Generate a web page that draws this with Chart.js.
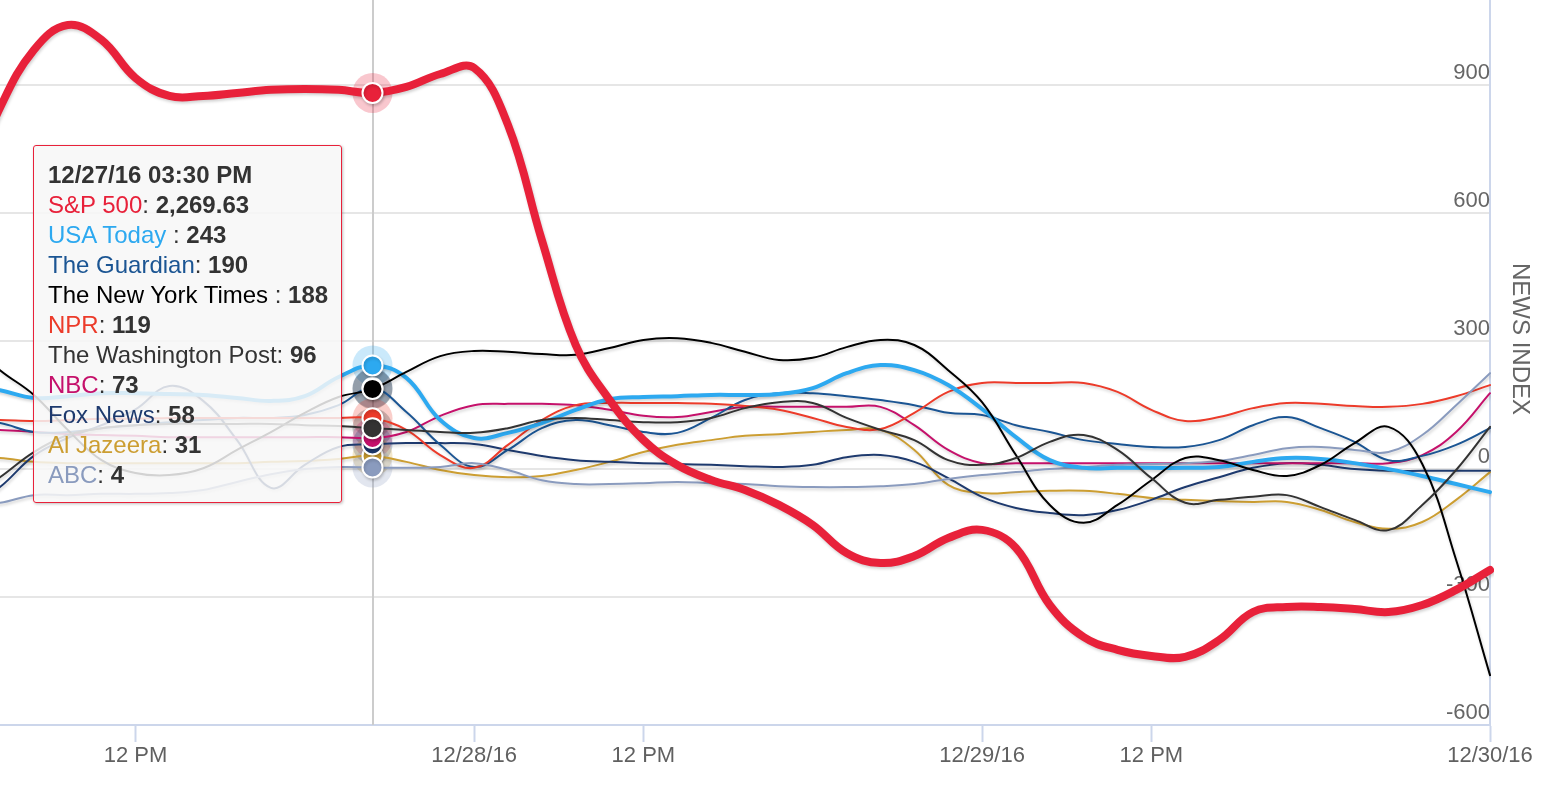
<!DOCTYPE html>
<html>
<head>
<meta charset="utf-8">
<title>News index vs S&amp;P 500</title>
<script src="https://cdn.jsdelivr.net/npm/chart.js"></script>
<style>
  html, body { margin: 0; padding: 0; background: #fff; }
  #wrap { position: relative; width: 1544px; height: 792px; }
  #tip {
    position: absolute; top: 145px; left: 32px; box-sizing: border-box; width: 309px;
    padding: 14px 10px 12px 14px; background: rgba(247, 247, 247, 0.85);
    border: 1px solid #e8213a; border-radius: 3px; box-shadow: 1px 1px 3px rgba(0, 0, 0, 0.25);
    font: 24px/30px "Liberation Sans", Arial, Helvetica, sans-serif; color: #333;
    white-space: nowrap; pointer-events: none; opacity: 0;
  }
</style>
</head>
<body>
<div id="wrap">
  <canvas id="myChart"></canvas>
  <div id="tip"></div>
</div>
<script>
// x categories: half-hour trading slots plus one overnight slot per day (ordinal axis)
const days = ['12/27/16', '12/28/16', '12/29/16', '12/30/16'];
const slots = ['09:30 AM', '10:00 AM', '10:30 AM', '11:00 AM', '11:30 AM', '12:00 PM', '12:30 PM',
               '01:00 PM', '01:30 PM', '02:00 PM', '02:30 PM', '03:00 PM', '03:30 PM', '04:00 PM', '08:00 PM'];
const labels = [];
days.forEach(d => slots.forEach(s => labels.push(d + ' ' + s)));
labels.length = 46;

const hoverLabel = '12/27/16 03:30 PM';
const newsTicks = [-600, -300, 0, 300, 600, 900];

const sp500 = [2265.47, 2268.99, 2271.47, 2272.54, 2271.90, 2270.27, 2269.50, 2269.50, 2269.63, 2269.76,
               2269.80, 2269.76, 2269.63, 2269.89, 2270.44, 2270.70, 2268.26, 2263.33, 2258.83, 2256.48,
               2254.76, 2253.69, 2253.05, 2252.62, 2251.98, 2251.12, 2249.92, 2249.49, 2249.79, 2250.56,
               2250.91, 2250.14, 2247.69, 2246.32, 2245.77, 2245.51, 2245.47, 2246.19, 2247.39, 2247.61,
               2247.61, 2247.52, 2247.39, 2247.69, 2248.34, 2249.19];
const usaToday = [197, 185, 167, 171, 178, 178, 176, 174, 167, 160, 171, 216, 243, 214, 115, 73, 85, 108, 139, 164,
                  169, 171, 174, 174, 176, 190, 225, 244, 232, 197, 141, 75, 21, 3, 3, 3, 3, 5, 17, 26,
                  24, 14, 0, -16, -35, -54];
const guardian = [115, 108, 87, 87, 96, 103, 110, 115, 120, 120, 127, 150, 190, 134, 57, 5, 45, 96, 115, 103,
                  87, 85, 120, 162, 178, 178, 171, 162, 150, 132, 127, 103, 87, 68, 59, 52, 52, 68, 103, 122,
                  96, 64, 21, 31, 57, 96];
const nyTimes = [303, 232, 174, 92, 21, -9, -14, 2, 45, 87, 132, 169, 188, 228, 265, 277, 275, 270, 268, 284,
                 303, 307, 296, 275, 256, 261, 286, 303, 291, 232, 157, 33, -84, -126, -84, -26, 26, 21, -2, -16,
                 10, 61, 99, 12, -213, -483];
const npr = [115, 115, 113, 115, 118, 118, 120, 120, 120, 120, 120, 120, 119, 92, 33, 3, 57, 115, 150, 155,
             155, 155, 153, 148, 139, 120, 99, 94, 132, 181, 202, 202, 202, 202, 181, 139, 113, 122, 143, 155,
             153, 148, 146, 153, 171, 197];
const washPost = [-72, -19, 40, 80, 96, 103, 106, 106, 106, 106, 103, 101, 96, 92, 87, 85, 96, 115, 120, 115,
                  110, 110, 120, 143, 157, 155, 120, 92, 68, 21, 10, 26, 64, 80, 45, -21, -79, -72, -65, -61,
                  -89, -119, -143, -84, -2, 99];
const nbc = [92, 92, 87, 82, 80, 78, 75, 75, 75, 75, 75, 75, 73, 87, 125, 150, 153, 153, 150, 139,
             125, 122, 134, 146, 146, 146, 146, 146, 103, 45, 14, 14, 14, 14, 14, 14, 14, 14, 14, 14,
             14, 14, 14, 33, 87, 178];
const foxNews = [-96, -42, 31, 73, 103, 140, 195, 160, 68, -44, 10, 52, 58, 61, 61, 59, 45, 31, 21, 17,
                 14, 12, 10, 7, 5, 10, 28, 33, 17, -21, -65, -91, -103, -108, -96, -72, -42, -19, 3, 14,
                 10, 0, -4, -4, -4, -4];
const alJazeera = [28, 26, 17, 14, 14, 14, 14, 14, 14, 17, 19, 24, 31, 17, -2, -14, -19, -16, -2, 17,
                   40, 57, 68, 78, 82, 87, 92, 92, 45, -37, -56, -54, -51, -51, -58, -68, -72, -75, -77, -77,
                   -96, -124, -140, -124, -72, -7];
const abc = [-84, -79, -61, -61, -58, -58, -56, -49, -30, -12, 0, 5, 4, 3, 5, 14, -2, -26, -35, -35,
             -33, -30, -33, -35, -40, -42, -42, -40, -35, -23, -14, -7, 0, 5, 10, 12, 14, 19, 33, 49,
             52, 45, 40, 80, 150, 225];

Chart.defaults.font.family = '"Liberation Sans", Arial, Helvetica, sans-serif';
Chart.defaults.color = '#666';

function series(label, data, color, width, order, axis) {
  return {
    label: label, data: data, yAxisID: axis || 'y', order: order,
    borderColor: color, backgroundColor: color, borderWidth: width,
    tension: 0.4, fill: false, borderCapStyle: 'round', borderJoinStyle: 'round',
    pointRadius: 0, pointHoverRadius: 10, pointHoverBorderWidth: 2,
    pointHoverBorderColor: '#ffffff', pointHoverBackgroundColor: color
  };
}

const datasets = [
  series('S&P 500', sp500, '#e8213a', 8, 0, 'ySP'),
  series('USA Today ', usaToday, '#2da9f0', 4, 3),
  series('The Guardian', guardian, '#1b5593', 2, 6),
  series('The New York Times ', nyTimes, '#000000', 2, 2),
  series('NPR', npr, '#ec3b2a', 2, 5),
  series('The Washington Post', washPost, '#333333', 2, 1),
  series('NBC', nbc, '#c5116b', 2, 7),
  series('Fox News', foxNews, '#1e3a6e', 2, 8),
  series('Al Jazeera', alJazeera, '#cc9e32', 2, 9),
  series('ABC', abc, '#8a9bbe', 2, 4)
];

// soft shadow under every series line
const lineShadow = {
  id: 'lineShadow',
  beforeDatasetDraw(chart) {
    const c = chart.ctx;
    c.save();
    c.shadowColor = 'rgba(0,0,0,0.18)';
    c.shadowBlur = 3;
    c.shadowOffsetX = 1;
    c.shadowOffsetY = 2;
  },
  afterDatasetDraw(chart) { chart.ctx.restore(); }
};

// crosshair + halos behind the hovered points
const hoverDecor = {
  id: 'hoverDecor',
  beforeDatasetsDraw(chart) {
    const active = chart.getActiveElements();
    if (!active.length) return;
    const ctx = chart.ctx, area = chart.chartArea;
    const x = Math.round(active[0].element.x);
    ctx.save();
    ctx.strokeStyle = '#cccccc';
    ctx.lineWidth = 2;
    ctx.beginPath();
    ctx.moveTo(x, area.top);
    ctx.lineTo(x, area.bottom);
    ctx.stroke();
    ctx.globalAlpha = 0.25;
    active.forEach(a => {
      ctx.fillStyle = chart.data.datasets[a.datasetIndex].borderColor;
      ctx.beginPath();
      ctx.arc(a.element.x, a.element.y, 20, 0, Math.PI * 2);
      ctx.fill();
    });
    ctx.restore();
  }
};

const newsTitle = {
  id: 'newsTitle',
  afterDraw(chart) {
    const ctx = chart.ctx;
    ctx.save();
    ctx.translate(chart.scales.y.right - 24, 339);
    ctx.rotate(Math.PI / 2);
    ctx.font = '24px "Liberation Sans", Arial, sans-serif';
    ctx.fillStyle = '#666';
    ctx.textAlign = 'center';
    ctx.textBaseline = 'middle';
    ctx.fillText('NEWS INDEX', 0, 0);
    ctx.restore();
  }
};

function esc(s) { return s.replace(/&/g, '&amp;'); }

function drawTip(context) {
  const tt = context.tooltip;
  const el = document.getElementById('tip');
  if (tt.opacity === 0) { el.style.opacity = 0; return; }
  let html = '<b>' + esc(tt.title[0]) + '</b>';
  tt.dataPoints.forEach(p => {
    const ds = p.dataset;
    const val = ds.yAxisID === 'ySP'
      ? p.raw.toLocaleString('en-US', {minimumFractionDigits: 2, maximumFractionDigits: 2})
      : p.raw;
    html += '<br><span style="color:' + ds.borderColor + '">' + esc(ds.label) + '</span>: <b>' + val + '</b>';
  });
  el.innerHTML = html;
  el.style.left = Math.round(tt.caretX - 340) + 'px';
  el.style.opacity = 1;
}

const ctx = document.getElementById('myChart').getContext('2d');
const myChart = new Chart(ctx, {
  type: 'line',
  data: { labels: labels, datasets: datasets },
  plugins: [lineShadow, hoverDecor, newsTitle],
  options: {
    responsive: true,
    maintainAspectRatio: false,
    animation: false,
    events: [],
    layout: { padding: 0, autoPadding: false },
    interaction: { mode: 'index', intersect: false },
    plugins: {
      legend: { display: false },
      tooltip: {
        enabled: false,
        external: drawTip,
        itemSort: (a, b) => b.raw - a.raw
      }
    },
    scales: {
      x: {
        type: 'category',
        min: labels[1],
        grid: { drawOnChartArea: false, drawTicks: true, tickLength: 17, tickColor: '#ccd6eb', tickWidth: 2 },
        border: { color: '#ccd6eb', width: 2 },
        afterBuildTicks: scale => {
          scale.ticks = scale.ticks.filter(t => {
            const lab = labels[t.value];
            return lab.endsWith('12:00 PM') || lab.endsWith('09:30 AM');
          });
        },
        afterFit: scale => {
          scale.height = 67;
          scale.paddingLeft = 0;
          scale.paddingRight = 0;
        },
        ticks: {
          autoSkip: false,
          maxRotation: 0,
          padding: 1,
          color: '#606060',
          font: { size: 22 },
          callback: function(value) {
            const lab = labels[value];
            return lab.endsWith('12:00 PM') ? '12 PM' : lab.slice(0, 8);
          }
        }
      },
      y: {
        position: 'right',
        min: -600,
        max: 1100,
        grid: { color: '#e6e6e6', lineWidth: 2, drawTicks: false },
        border: { color: '#ccd6eb', width: 2 },
        afterBuildTicks: scale => { scale.ticks = newsTicks.map(v => ({value: v})); },
        afterFit: scale => {
          scale.width = 54;
          scale.paddingTop = 0;
          scale.paddingBottom = 0;
        },
        ticks: {
          mirror: true,
          padding: 0,
          labelOffset: -12,
          color: '#666',
          font: { size: 22 }
        }
      },
      ySP: {
        position: 'left',
        display: false,
        min: 2242.55,
        max: 2273.61
      }
    }
  }
});

const hoverIndex = labels.indexOf(hoverLabel);
const active = datasets.map((d, i) => ({datasetIndex: i, index: hoverIndex}));
myChart.setActiveElements(active);
myChart.tooltip.setActiveElements(active, {x: 0, y: 0});
myChart.update();
</script>
</body>
</html>
